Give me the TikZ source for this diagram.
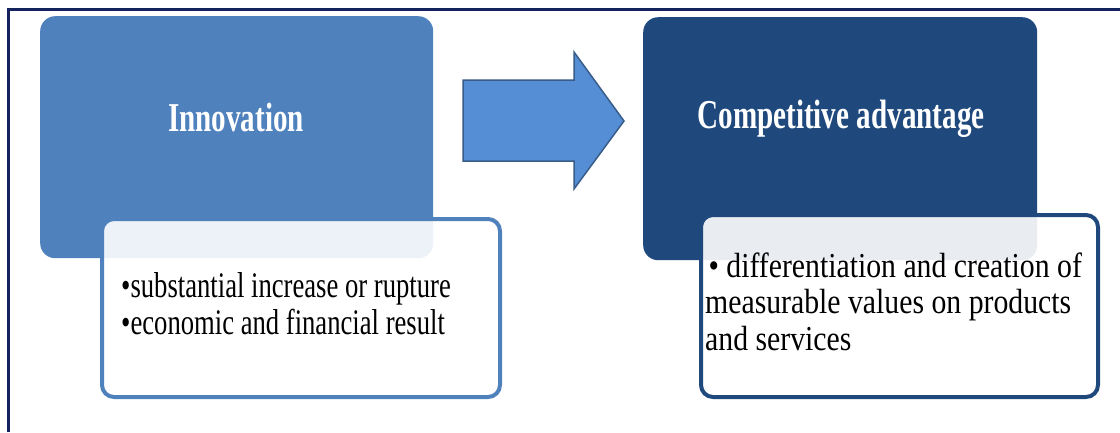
\documentclass[tikz,border=0pt]{standalone}
\usepackage{fontspec}
\setmainfont{Liberation Serif}
\usepackage{graphicx}
\definecolor{innoblue}{HTML}{4F81BD}
\definecolor{arrowblue}{HTML}{558ED5}
\definecolor{arrowline}{HTML}{385D8A}
\definecolor{navy}{HTML}{1F497D}
\definecolor{framecol}{HTML}{14235E}
\tikzset{
  bigbox/.style={rectangle, rounded corners=15pt, inner sep=0pt, anchor=north west},
  whitebox/.style={rectangle, rounded corners=12pt, inner sep=0pt, anchor=north west,
    line width=4pt, fill=white, fill opacity=0.9, draw opacity=1, text opacity=1},
  headtext/.style={text=white, inner sep=0pt, font=\fontsize{41}{41}\selectfont\bfseries},
  bodytext/.style={text=black, inner sep=0pt, anchor=base west, align=left},
  framestyle/.style={draw=framecol, line width=3pt},
}
\begin{document}
\begin{tikzpicture}[x=1pt, y=-1pt]
\useasboundingbox (0,0) rectangle (1120,432);
\fill[white] (0,0) rectangle (1120,432);
% outer frame
\coordinate (fbl) at (8,432);
\coordinate (ftl) at (8,9);
\coordinate (ftr) at (1120,9);
\draw[framestyle] (fbl) -- (ftl) -- (ftr);

% Innovation block
\node[bigbox, fill=innoblue, minimum width=393pt, minimum height=242pt] (inno) at (40,16) {};
\node[headtext] (innoT) at (236,117) {\scalebox{0.71}[1]{Innovation}};
\node[whitebox, draw=innoblue, minimum width=398pt, minimum height=178pt] (innoB) at (100,217) {};
\node[bodytext] (innoTxt) at (121,297) {\fontsize{36}{37}\selectfont\scalebox{0.74}[1]{\begin{tabular}[t]{@{}l@{}}•substantial increase or rupture\\•economic and financial result\end{tabular}}};

% Arrow
\draw[fill=arrowblue, draw=arrowline, line width=1.5pt, line join=miter]
  (463,80) -- (574,80) -- (574,52) -- (624,121) -- (574,189) -- (574,161) -- (463,161) -- cycle;

% Competitive advantage block
\node[bigbox, fill=navy, minimum width=394pt, minimum height=243pt] (comp) at (643,17) {};
\node[headtext] (compT) at (841,119) {\scalebox{0.71}[1]{Competitive advantage}};
\node[whitebox, draw=navy, minimum width=397pt, minimum height=182pt] (compB) at (699,213) {};
\node[bodytext] (compTxt) at (705,277) {\fontsize{35}{36.5}\selectfont\scalebox{0.85}[1]{\begin{tabular}[t]{@{}l@{}}\hspace{4pt}• differentiation and creation of\\measurable values on products\\and services\end{tabular}}};
\end{tikzpicture}
\end{document}
